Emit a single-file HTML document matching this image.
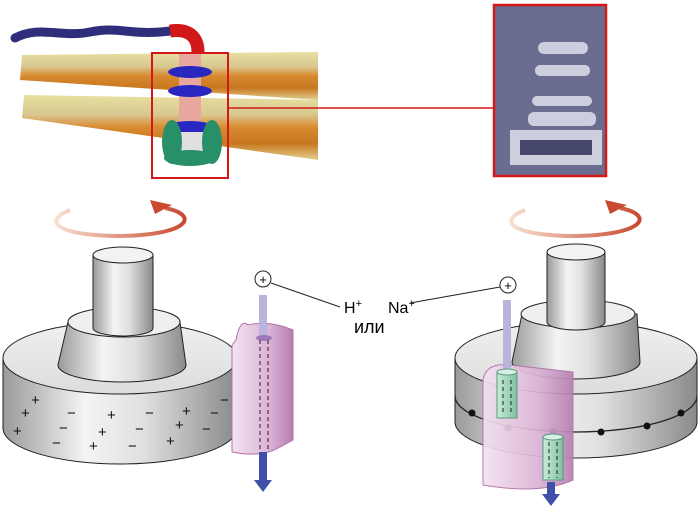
<!DOCTYPE html>
<html><head><meta charset="utf-8"><style>html,body{margin:0;padding:0;background:#fff}svg{display:block}</style></head>
<body>
<svg width="700" height="525" viewBox="0 0 700 525" xmlns="http://www.w3.org/2000/svg" font-family="Liberation Sans, sans-serif">
<defs>
<linearGradient id="side" x1="0" x2="1" y1="0" y2="0">
<stop offset="0" stop-color="#9a9a9a"/><stop offset="0.35" stop-color="#f4f4f4"/><stop offset="0.6" stop-color="#e0e0e0"/><stop offset="1" stop-color="#8a8a8a"/></linearGradient>
<linearGradient id="topf" x1="0" x2="0" y1="0" y2="1"><stop offset="0" stop-color="#f0f0f0"/><stop offset="1" stop-color="#dcdcdc"/></linearGradient>
<linearGradient id="pink" x1="0" x2="1"><stop offset="0" stop-color="#f3e3f0"/><stop offset="0.6" stop-color="#dcb4d6"/><stop offset="1" stop-color="#b57fb0"/></linearGradient>
<linearGradient id="rot" x1="0" x2="1"><stop offset="0" stop-color="#f6e0d0"/><stop offset="1" stop-color="#c84a30"/></linearGradient>
<linearGradient id="shaft" x1="0" x2="0" y1="0" y2="1"><stop offset="0" stop-color="#b8b4dc"/><stop offset="1" stop-color="#4050a8"/></linearGradient>
<linearGradient id="memU" x1="0" x2="0" y1="0" y2="1"><stop offset="0" stop-color="#e8e0a0"/><stop offset="0.3" stop-color="#d8c890"/><stop offset="0.5" stop-color="#d88a30"/><stop offset="0.75" stop-color="#c87820"/><stop offset="1" stop-color="#e0d090"/></linearGradient>
<linearGradient id="gr" x1="0" x2="1"><stop offset="0" stop-color="#c8ecd8"/><stop offset="1" stop-color="#80c0a0"/></linearGradient>
</defs>

<!-- membranes -->
<polygon points="22,55 318,52 318,100 20,80" fill="url(#memU)"/>
<polygon points="24,95 318,100 318,160 22,118" fill="url(#memU)"/>
<path d="M15,38 C40,25 60,38 90,32 C120,26 130,36 170,31" stroke="#2e2e7a" stroke-width="9" fill="none" stroke-linecap="round"/>
<path d="M170,31 C190,28 198,38 198,52" stroke="#d01818" stroke-width="13" fill="none"/>
<rect x="179" y="52" width="22" height="75" fill="#e8a8a0"/>
<ellipse cx="190" cy="72" rx="22" ry="6" fill="#2828c0"/>
<ellipse cx="190" cy="91" rx="22" ry="6" fill="#2828c0"/>
<ellipse cx="190" cy="128" rx="24" ry="7" fill="#2828c0"/>
<rect x="170" y="132" width="40" height="20" fill="#e0e0e0"/>
<ellipse cx="172" cy="142" rx="10" ry="22" fill="#289068"/>
<ellipse cx="212" cy="142" rx="10" ry="22" fill="#289068"/>
<ellipse cx="190" cy="158" rx="26" ry="8" fill="#289068"/>
<rect x="152" y="53" width="76" height="125" fill="none" stroke="#d41818" stroke-width="2"/>
<line x1="228" y1="108" x2="495" y2="108" stroke="#d41818" stroke-width="1.5"/>
<rect x="494" y="5" width="112" height="171" fill="#6a6c90" stroke="#d41818" stroke-width="2.5"/>
<g fill="#d8dae8" opacity="0.9">
<rect x="538" y="42" width="50" height="12" rx="6"/><rect x="535" y="65" width="55" height="11" rx="5"/>
<rect x="532" y="96" width="60" height="10" rx="5"/><rect x="528" y="112" width="68" height="14" rx="6"/>
<rect x="510" y="130" width="92" height="10" rx="5"/><rect x="510" y="155" width="92" height="10" rx="5"/>
<rect x="510" y="130" width="10" height="35"/><rect x="592" y="130" width="10" height="35"/></g>
<rect x="520" y="140" width="72" height="15" fill="#44466a"/>

<!-- rotation arrows -->
<path d="M165,208 C200,215 190,235 120,236 C60,236 40,222 70,210" stroke="url(#rot)" stroke-width="4" fill="none"/>
<polygon points="150,200 172,205 155,214" fill="#c84a30"/>
<path d="M620,208 C655,215 645,235 575,236 C515,236 495,222 525,210" stroke="url(#rot)" stroke-width="4" fill="none"/>
<polygon points="605,200 627,205 610,214" fill="#c84a30"/>

<!-- left motor -->
<path d="M3,358 L3,428 A117,36 0 0 0 237,428 L237,358 Z" fill="url(#side)" stroke="#222"/>
<ellipse cx="120" cy="358" rx="117" ry="36" fill="url(#topf)" stroke="#222"/>
<path d="M58,365 L68,322 L180,322 L186,365 A64,17 0 0 1 58,365 Z" fill="url(#side)" stroke="#222"/>
<ellipse cx="124" cy="322" rx="56" ry="15" fill="#efefef" stroke="#222"/>
<path d="M93,255 L93,328 A30,8 0 0 0 153,328 L153,255 Z" fill="url(#side)" stroke="#222"/>
<ellipse cx="123" cy="255" rx="30" ry="8" fill="#f2f2f2" stroke="#222"/>
<g font-size="15" fill="#111">
<text x="31" y="405">+</text><text x="21" y="418">+</text><text x="13" y="436">+</text><text x="107" y="420">+</text><text x="98" y="437">+</text><text x="89" y="451">+</text><text x="182" y="416">+</text><text x="175" y="430">+</text><text x="166" y="446">+</text>
<text x="67" y="418">−</text><text x="59" y="433">−</text><text x="52" y="448">−</text><text x="145" y="418">−</text><text x="135" y="434">−</text><text x="128" y="451">−</text><text x="210" y="418">−</text><text x="202" y="434">−</text><text x="220" y="405">−</text></g>
<path d="M232,345 L232,452 Q262,458 280,447 L293,440 L293,330 Q270,320 248,325 Q240,318 236,340 Z" fill="url(#pink)" stroke="#b070a8"/>
<rect x="259" y="295" width="8" height="45" fill="#b8b4dc"/>
<ellipse cx="264" cy="338" rx="8" ry="3" fill="#9a7ab8"/>
<rect x="259" y="452" width="8" height="30" fill="#4050a8"/>
<polygon points="254,480 272,480 263,492" fill="#4050a8"/>
<line x1="260" y1="340" x2="260" y2="452" stroke="#222" stroke-dasharray="4,3"/>
<line x1="268" y1="340" x2="268" y2="452" stroke="#222" stroke-dasharray="4,3"/>
<circle cx="263" cy="279" r="8" fill="#fff" stroke="#222"/><text x="263" y="284" font-size="13" text-anchor="middle">+</text>
<line x1="271" y1="283" x2="340" y2="307" stroke="#222"/>
<text x="344" y="313" font-size="16">H<tspan font-size="11" dy="-6">+</tspan></text>
<text x="354" y="333" font-size="18">или</text>
<text x="388" y="313" font-size="16">Na<tspan font-size="11" dy="-6">+</tspan></text>
<line x1="410" y1="303" x2="500" y2="287" stroke="#222"/>
<circle cx="508" cy="285" r="8" fill="#fff" stroke="#222"/><text x="508" y="290" font-size="13" text-anchor="middle">+</text>

<!-- right motor -->
<path d="M455,358 L455,422 A121,36 0 0 0 697,422 L697,358 Z" fill="url(#side)" stroke="#222"/>
<ellipse cx="576" cy="358" rx="121" ry="36" fill="url(#topf)" stroke="#222"/>
<path d="M512,362 L522,314 L637,314 L640,362 A64,17 0 0 1 512,362 Z" fill="url(#side)" stroke="#222"/>
<ellipse cx="578" cy="314" rx="57" ry="14" fill="#efefef" stroke="#222"/>
<path d="M547,252 L547,322 A29,8 0 0 0 605,322 L605,252 Z" fill="url(#side)" stroke="#222"/>
<ellipse cx="576" cy="252" rx="29" ry="8" fill="#f2f2f2" stroke="#222"/>
<path d="M455,396 A121,36 0 0 0 697,396" fill="none" stroke="#222" stroke-width="1.3"/>
<g fill="#111"><circle cx="472" cy="413" r="3.5"/><circle cx="508" cy="428" r="3.5"/><circle cx="553" cy="432" r="3.5"/><circle cx="601" cy="432" r="3.5"/><circle cx="647" cy="426" r="3.5"/><circle cx="681" cy="413" r="3.5"/></g>
<path d="M483,380 Q486,362 510,365 L573,372 L573,480 Q540,495 483,485 Z" fill="url(#pink)" stroke="#b070a8" opacity="0.92"/>
<rect x="503" y="300" width="8" height="75" fill="#b8b4dc"/>
<rect x="497" y="372" width="20" height="46" fill="url(#gr)" stroke="#5a9a80"/>
<ellipse cx="507" cy="372" rx="10" ry="3" fill="#d8f0e4" stroke="#5a9a80"/>
<rect x="543" y="437" width="20" height="43" fill="url(#gr)" stroke="#5a9a80"/>
<ellipse cx="553" cy="437" rx="10" ry="3" fill="#d8f0e4" stroke="#5a9a80"/>
<line x1="503" y1="380" x2="503" y2="412" stroke="#222" stroke-dasharray="4,3"/><line x1="511" y1="380" x2="511" y2="412" stroke="#222" stroke-dasharray="4,3"/>
<line x1="549" y1="442" x2="549" y2="478" stroke="#222" stroke-dasharray="4,3"/><line x1="557" y1="442" x2="557" y2="478" stroke="#222" stroke-dasharray="4,3"/>
<rect x="547" y="482" width="8" height="14" fill="#4050a8"/>
<polygon points="542,494 560,494 551,506" fill="#4050a8"/>
</svg>
</body></html>
